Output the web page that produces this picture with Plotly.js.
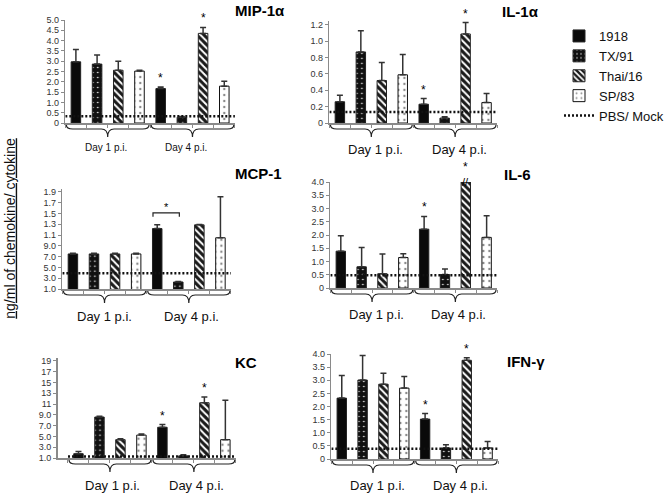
<!DOCTYPE html>
<html><head><meta charset="utf-8">
<script src="https://cdn.plot.ly/plotly-3.0.1.min.js"></script>
<style>html,body{margin:0;padding:0;background:#fff}#chart{width:669px;height:493px}</style>
</head><body><div id="chart"></div>
<script>
const strains = ['1918','TX/91','Thai/16','SP/83'];
const days = ['Day 1 p.i.','Day 4 p.i.'];
// per strain: [Day 1, Day 4] mean and upper error
const mip1a_mean = [[2.97,1.67],[2.86,0.28],[2.56,4.35],[2.52,1.79]];
const mip1a_err  = [[0.60,0.08],[0.44,0.04],[0.44,0.29],[0.04,0.24]];
const mip1a_mock = 0.33;
const il1a_mean = [[0.26,0.23],[0.87,0.06],[0.52,1.09],[0.59,0.25]];
const il1a_err  = [[0.08,0.07],[0.26,0.015],[0.22,0.14],[0.25,0.11]];
const il1a_mock = 0.135;
const mcp1_mean = [[7.5,12.2],[7.5,2.3],[7.5,12.9],[7.5,10.5]];
const mcp1_err  = [[0.15,0.7],[0.15,0.1],[0.15,0.05],[0.15,7.6]];
const mcp1_mock = 3.9;
const il6_mean = [[1.39,2.22],[0.80,0.51],[0.54,4.0],[1.15,1.91]];
const il6_err  = [[0.58,0.48],[0.73,0.21],[0.74,0],[0.14,0.82]];
const il6_mock = 0.48;
const kc_mean = [[1.8,6.7],[8.6,1.4],[4.4,11.25],[5.25,4.4]];
const kc_err  = [[0.4,0.5],[0.15,0.2],[0.15,1.05],[0.2,7.3]];
const kc_mock = 1.3;
const ifng_mean = [[2.32,1.52],[3.01,0.42],[2.85,3.76],[2.70,0.42]];
const ifng_err  = [[0.86,0.21],[0.93,0.12],[0.42,0.10],[0.44,0.25]];
const ifng_mock = 0.39;

const tickvals_half4 = [0,0.5,1,1.5,2,2.5,3,3.5,4];
const ticktext_half4 = ['0','0.5','1.0','1.5','2.0','2.5','3.0','3.5','4.0'];
const tickvals_mip1a = [0,0.5,1,1.5,2,2.5,3,3.5,4,4.5,5];
const ticktext_mip1a = ['0','0.5','1.0','1.5','2.0','2.5','3.0','3.5','4.0','4.5','5.0'];
const tickvals_il1a = [0,0.2,0.4,0.6,0.8,1.0,1.2];
const ticktext_il1a = ['0','0.2','0.4','0.6','0.8','1.0','1.2'];
const tickvals_odd = [1,3,5,7,9,11,13,15,17,19];
const ticktext_mcp1 = ['1.0','3.0','5.0','7.0','9.0','1.1','1.3','1.5','1.7','1.9'];
const ticktext_kc = ['1.0','3.0','5.0','7.0','9.0','11','13','15','17','19'];

const W = 669, H = 493;
const FONT = 'Arial, "Liberation Sans", Helvetica, sans-serif';

const panels = [
  {title:'MIP-1α', mean:mip1a_mean, err:mip1a_err, mock:mip1a_mock, tv:tickvals_mip1a, tt:ticktext_mip1a,
   xpx:[67,241], ypx:[20,123], yr:[0,5], xr:[-0.5,7.5], tpos:[239,10], dayX:[1.4,5.2], dayFont:10, dayOff:24, stars:[[4,0],[6,0]]},
  {title:'IL-1α', mean:il1a_mean, err:il1a_err, mock:il1a_mock, tv:tickvals_il1a, tt:ticktext_il1a,
   xpx:[338,510], ypx:[20.9,123], yr:[0,1.25], xr:[-0.5,7.5], tpos:[513,12], dayX:[1.7,5.7], dayFont:13, dayOff:26, stars:[[4,0],[6,0]]},
  {title:'MCP-1', mean:mcp1_mean, err:mcp1_err, mock:mcp1_mock, tv:tickvals_odd, tt:ticktext_mcp1,
   xpx:[64,237], ypx:[188.7,289], yr:[1,19.6], xr:[-0.5,7.5], tpos:[239,173], dayX:[1.5,5.65], dayFont:13, dayOff:27, stars:[]},
  {title:'IL-6', mean:il6_mean, err:il6_err, mock:il6_mock, tv:tickvals_half4, tt:ticktext_half4,
   xpx:[339,510], ypx:[182,288], yr:[0,4], xr:[-0.5,7.5], tpos:[515,174], dayX:[1.7,5.67], dayFont:13, dayOff:26, stars:[[4,0],[6,6]]},
  {title:'KC', mean:kc_mean, err:kc_err, mock:kc_mock, tv:tickvals_odd, tt:ticktext_kc,
   xpx:[59,242], ypx:[357.7,458], yr:[1,19.6], xr:[-1,7.5], tpos:[239,362], dayX:[1.6,5.64], dayFont:13, dayOff:27, stars:[[4,0],[6,0]]},
  {title:'IFN-γ', mean:ifng_mean, err:ifng_err, mock:ifng_mock, tv:tickvals_half4, tt:ticktext_half4,
   xpx:[340,511], ypx:[354,459], yr:[0,4], xr:[-0.5,7.5], tpos:[518,361], dayX:[1.7,5.7], dayFont:13, dayOff:26, stars:[[4,0],[6,0]]}
];

const styles = [
  {color:'#0a0a0a', line:'#222', pattern:{shape:''}},
  {color:'#111', line:'#222', pattern:{shape:'.', bgcolor:'#111', fgcolor:'#ffffff', size:5, solidity:0.08, fillmode:'replace'}},
  {color:'#222', line:'#222', pattern:{shape:'\\', bgcolor:'#1a1a1a', fgcolor:'#ffffff', size:5, solidity:0.4, fillmode:'replace'}},
  {color:'#fff', line:'#111', pattern:{shape:'.', bgcolor:'#ffffff', fgcolor:'#888', size:6, solidity:0.12, fillmode:'replace'}}
];

const px2x = p => p / W;
const py2y = p => 1 - p / H;

const data = [];
const layout = {
  width: W, height: H,
  margin: {l:0, r:0, t:0, b:0},
  paper_bgcolor: '#fff', plot_bgcolor: 'rgba(0,0,0,0)',
  font: {family: FONT, color:'#111'},
  barmode: 'overlay',
  showlegend: true,
  legend: {x: px2x(574), y: py2y(21), xanchor:'left', yanchor:'top', font:{size:13, family:FONT, color:'#111'},
           bgcolor:'rgba(0,0,0,0)', itemwidth:30, tracegroupgap:0},
  annotations: [], shapes: []
};

panels.forEach((p, i) => {
  const n = i + 1;
  const xa = n === 1 ? 'x' : 'x' + n;
  const ya = n === 1 ? 'y' : 'y' + n;
  const xk = n === 1 ? 'xaxis' : 'xaxis' + n;
  const yk = n === 1 ? 'yaxis' : 'yaxis' + n;
  layout[xk] = {
    domain: [px2x(p.xpx[0]), px2x(p.xpx[1])], range: p.xr, anchor: ya,
    showgrid:false, zeroline:false, showline:true, linecolor:'#8a8a8a', linewidth:1.5,
    tickvals:[-0.5,0.5,1.5,2.5,3.5,4.5,5.5,6.5,7.5], ticktext:['','','','','','','','',''],
    ticks:'outside', ticklen:3, tickcolor:'#8a8a8a', fixedrange:true
  };
  layout[yk] = {
    domain: [py2y(p.ypx[1]), py2y(p.ypx[0])], range: p.yr, anchor: xa,
    showgrid:false, zeroline:false, showline:true, linecolor:'#8a8a8a', linewidth:1.5,
    tickvals:p.tv, ticktext:p.tt, ticks:'outside', ticklen:3, tickcolor:'#8a8a8a',
    tickfont:{size:9, color:'#333', family:FONT}, fixedrange:true
  };
  strains.forEach((s, k) => {
    data.push({
      type:'bar', name:s, legendgroup:s, showlegend: i === 0,
      x:[k, k + 4], y:p.mean[k], width:0.45, cliponaxis:false,
      xaxis:xa, yaxis:ya,
      marker:{color:styles[k].color, line:{color:styles[k].line, width:1}, pattern:styles[k].pattern},
      error_y:{type:'data', array:p.err[k], symmetric:false, arrayminus:[0,0], color:'#333', thickness:1.5, width:3, visible:true},
      hoverinfo:'skip'
    });
  });
  data.push({
    type:'scatter', mode:'lines', name:'PBS/ Mock', legendgroup:'mock', showlegend: i === 0,
    x:[-0.5, 7.6], y:[p.mock, p.mock], xaxis:xa, yaxis:ya, cliponaxis:false,
    line:{color:'#111', width:2.5, dash:'2px,2px'}, hoverinfo:'skip'
  });
  layout.annotations.push({xref:'paper', yref:'paper', x:px2x(p.tpos[0]), y:py2y(p.tpos[1]), xanchor:'left', yanchor:'middle',
    text:'<b>' + p.title + '</b>', showarrow:false, font:{size:15, family:FONT, color:'#000'}});
  const bottom = p.ypx[1];
  const yA = py2y(bottom + 2), yB = py2y(bottom + 6), yC = py2y(bottom + 14);
  [[-0.45, 3.45], [3.55, 7.45]].forEach((seg, j) => {
    const [x0, x1] = seg, xc = (x0 + x1) / 2, d = 0.3;
    layout.shapes.push({type:'path', xref:xa, yref:'paper', line:{color:'#222', width:1.2},
      path:`M ${x0},${yA} Q ${x0},${yB} ${x0+d},${yB} L ${xc-d},${yB} Q ${xc},${yB} ${xc},${yC} Q ${xc},${yB} ${xc+d},${yB} L ${x1-d},${yB} Q ${x1},${yB} ${x1},${yA}`});
    layout.annotations.push({xref:xa, yref:'paper', x:p.dayX[j], y:py2y(bottom + p.dayOff), xanchor:'center', yanchor:'middle',
      text:days[j], showarrow:false, font:{size:p.dayFont, family:FONT, color:'#111'}});
  });
  p.stars.forEach(([slot, extra]) => {
    const k = slot % 4, dIdx = slot < 4 ? 0 : 1;
    layout.annotations.push({xref:xa, yref:ya, x:slot, y:p.mean[k][dIdx] + p.err[k][dIdx], xanchor:'center', yanchor:'bottom',
      yshift: extra, text:'*', showarrow:false, font:{size:12, family:FONT, color:'#000'}});
  });
});

layout.annotations.push({xref:'x4', yref:'y4', x:6, y:il6_mean[2][1], xanchor:'center', yanchor:'middle',
  text:'//', showarrow:false, font:{size:11, family:FONT, color:'#000'}});
layout.shapes.push({type:'path', xref:'x3', yref:'y3', line:{color:'#222', width:1.2},
  path:'M 3.8,14.4 L 3.8,15.1 L 5.05,15.1 L 5.05,14.4'});
layout.annotations.push({xref:'x3', yref:'y3', x:4.45, y:15.1, xanchor:'center', yanchor:'bottom', yshift:-2,
  text:'*', showarrow:false, font:{size:11, family:FONT, color:'#000'}});
layout.annotations.push({xref:'paper', yref:'paper', x:px2x(10), y:py2y(228), xanchor:'center', yanchor:'middle', textangle:-90,
  text:'<u>ng/ml of chemokine/ cytokine</u>', showarrow:false, font:{size:14, family:FONT, color:'#111'}});

Plotly.newPlot('chart', data, layout, {displayModeBar:false, staticPlot:true});
</script></body></html>
